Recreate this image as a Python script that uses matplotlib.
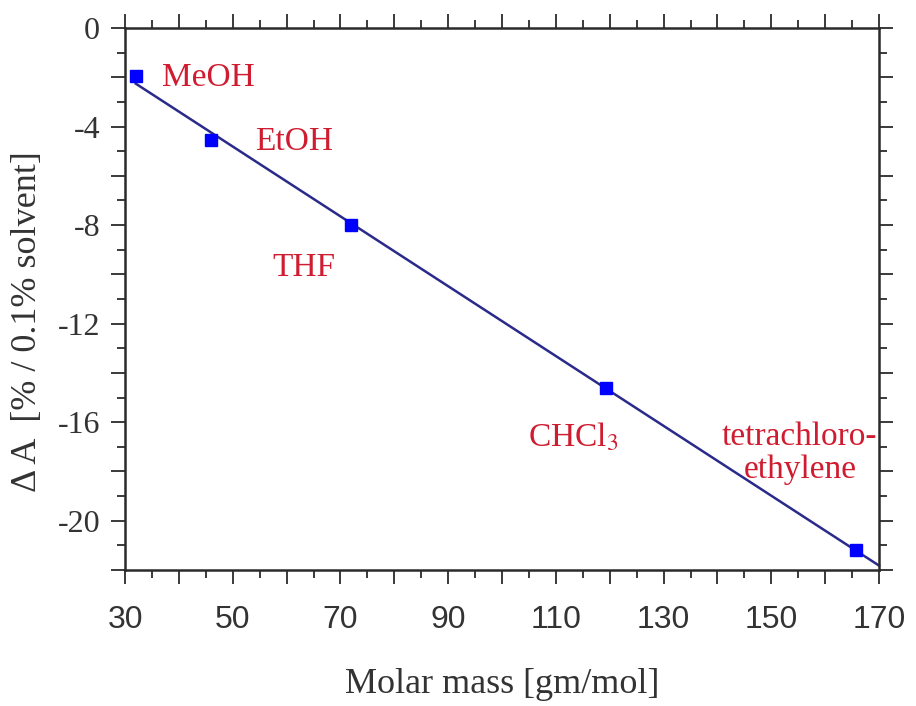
import numpy as np
import matplotlib.pyplot as plt
from matplotlib.ticker import MultipleLocator, FuncFormatter

plt.rcParams['mathtext.fontset'] = 'stix'

# data
solvents = ['MeOH', 'EtOH', 'THF', r'CHCl$_\mathrm{3}$', 'tetrachloro-\nethylene']
molar_mass = [32.0, 46.0, 72.0, 119.4, 165.8]
delta_a = [-1.95, -4.55, -8.0, -14.6, -21.2]
# where each name is written (x, y, alignment)
label_x = [36.9, 54.1, 57.3, 104.8, 155.3]
label_y = [-2.0, -4.6, -9.75, -16.6, -17.25]
label_ha = ['left', 'left', 'left', 'left', 'center']

serif = 'Liberation Serif'
txt_red = '#d01c30'
dark = '#2b2b2b'

fig = plt.figure(figsize=(9.16, 7.06), dpi=100)
ax = fig.add_axes([0.1365, 0.1926, 0.8231, 0.7677])

# fitted straight line through the points
k, b = np.polyfit(molar_mass, delta_a, 1)
xl = np.array([molar_mass[0], 170.0])
ax.plot(xl, k * xl + b, color='#2a2a8a', lw=1.8, zorder=2, clip_on=False)
ax.plot(molar_mass, delta_a, 's', color='#0000ff', ms=8, zorder=3, clip_on=False)

for name, x, y, ha in zip(solvents, label_x, label_y, label_ha):
    ax.text(x, y, name, color=txt_red, fontsize=24, family=serif,
            ha=ha, va='center', linespacing=1.12)

ax.set_xlim(30, 170)
ax.set_ylim(-22, 0)

ax.xaxis.set_major_locator(MultipleLocator(10))
ax.xaxis.set_minor_locator(MultipleLocator(5))
ax.xaxis.set_major_formatter(FuncFormatter(lambda v, p: '%d' % v if int(round(v)) % 20 == 10 else ''))
ax.yaxis.set_major_locator(MultipleLocator(2))
ax.yaxis.set_minor_locator(MultipleLocator(1))
ax.yaxis.set_major_formatter(FuncFormatter(lambda v, p: '%d' % v if int(round(v)) % 4 == 0 else ''))

ax.tick_params(which='both', direction='out', top=True, right=True, color=dark, width=1.3)
ax.tick_params(which='major', length=10)
ax.tick_params(which='minor', length=6)
ax.tick_params(axis='x', which='major', pad=15, labelsize=23, labelcolor='#333333')
ax.tick_params(axis='y', which='major', pad=8, labelsize=23, labelcolor='#333333')
for lab in ax.get_xticklabels():
    lab.set_family('Liberation Sans')
for lab in ax.get_yticklabels():
    lab.set_family(serif)

for s in ax.spines.values():
    s.set_linewidth(1.8)
    s.set_color(dark)

ax.set_xlabel('Molar mass [gm/mol]', fontsize=26, family=serif, color='#333333')
ax.set_ylabel('\u0394 A  [% / 0.1% solvent]', fontsize=26, family=serif, color='#333333')
ax.xaxis.set_label_coords(0.5, -0.18)
ax.yaxis.set_label_coords(-0.107, 0.458)

fig.savefig('out.png', dpi=100)
